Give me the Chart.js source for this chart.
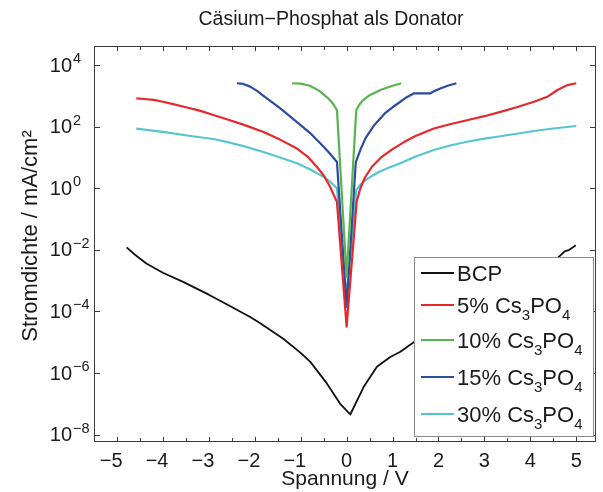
<!DOCTYPE html>
<html lang="de">
<head>
<meta charset="UTF-8">
<title>Cäsium-Phosphat als Donator</title>
<style>
  body { margin: 0; background: #fff; }
  #chart { display: block; }
</style>
</head>
<body>
<canvas id="chart" width="603" height="492"></canvas>
<script src="https://cdn.jsdelivr.net/npm/chart.js@4.4.1/dist/chart.umd.min.js"></script>
<script>
  // Spannung (V) und Stromdichte (mA/cm²)
  const V_BCP = [-4.79, -4.6, -4.36, -4.0, -3.56, -3.0, -2.5, -2.1, -1.88, -1.38, -1.0, -0.79, -0.43, -0.14, 0.08,
                 0.37, 0.66, 0.95, 1.17, 1.46, 2.0, 2.5, 3.0, 3.5, 4.0, 4.5, 4.62, 4.75, 4.85, 4.99];
  const J_BCP = [1.2e-2, 6.8e-3, 3.6e-3, 1.8e-3, 9.1e-4, 3.5e-4, 1.4e-4, 6.6e-5, 4.1e-5, 1.3e-5, 4.5e-6, 2.3e-6, 4.6e-7, 1.0e-7, 4.5e-8,
                 3.5e-7, 1.6e-6, 3.3e-6, 4.9e-6, 1.0e-5, 2.8e-5, 7.9e-5, 2.2e-4, 6.3e-4, 1.6e-3, 4.0e-3, 5.9e-3, 8.9e-3, 1.0e-2, 1.4e-2];

  const V_5 = [-4.58, -4.4, -4.2, -4.0, -3.8, -3.5, -3.2, -2.9, -2.54, -2.2, -1.81, -1.45, -1.08, -0.85, -0.65, -0.5, -0.36, -0.21, 0,
               0.22, 0.3, 0.4, 0.55, 0.75, 1.0, 1.25, 1.5, 1.9, 2.25, 2.62, 3.0, 3.35, 3.7, 4.08, 4.37, 4.59, 4.81, 5.0];
  const J_5 = [832, 794, 741, 646, 550, 427, 331, 240, 162, 110, 67.6, 38, 19.5, 10.7, 5.0, 2.63, 1.12, 0.355, 3.2e-5,
               0.38, 1.0, 2.24, 5.0, 10, 18.6, 31.6, 50.1, 87.1, 120, 162, 219, 302, 427, 646, 933, 1550, 2240, 2570];

  const V_10 = [-1.19, -1.0, -0.8, -0.6, -0.4, -0.3, -0.21, 0, 0.21, 0.28, 0.35, 0.5, 0.75, 1.0, 1.19];
  const J_10 = [2570, 2510, 2140, 1480, 832, 562, 347, 1.32e-3, 347, 525, 708, 1050, 1580, 2140, 2570];

  const V_15 = [-2.39, -2.25, -2.1, -1.95, -1.81, -1.45, -1.08, -0.8, -0.5, -0.36, -0.21, 0,
                0.2, 0.3, 0.41, 0.6, 0.83, 1.0, 1.17, 1.3, 1.46, 1.65, 1.82, 1.9, 2.04, 2.2, 2.39];
  const J_15 = [2570, 2450, 2000, 1450, 1000, 398, 141, 63.1, 22.4, 13.2, 7.1, 1.41e-4,
                7.1, 17.8, 41.7, 112, 269, 427, 646, 891, 1200, 1200, 1200, 1410, 1740, 2140, 2570];

  const V_30 = [-4.58, -4.0, -3.36, -2.9, -2.54, -2.2, -1.81, -1.45, -1.08, -0.8, -0.5, -0.35, -0.21, 0,
                0.21, 0.3, 0.4, 0.55, 0.7, 0.9, 1.17, 1.5, 1.9, 2.25, 2.62, 3.0, 3.35, 3.7, 4.08, 4.5, 5.0];
  const J_30 = [87, 67.6, 49, 39.8, 30.2, 22.4, 15.1, 10, 6.5, 4.17, 2.34, 1.58, 1.0, 2.95e-4,
                0.87, 1.32, 1.78, 2.51, 3.39, 4.57, 6.5, 10.7, 17.4, 24.5, 32.4, 40.7, 49, 58.9, 72.4, 87.1, 105];

  const X_TICKS = [-5, -4, -3, -2, -1, 0, 1, 2, 3, 4, 5];
  const Y_EXPONENTS = [4, 2, 0, -2, -4, -6, -8];

  const SERIES = [
    { label: 'BCP', sub: null, x: V_BCP, y: J_BCP, color: '#111111', width: 1.8 },
    { label: '5% Cs', sub: '3', after: 'PO', sub2: '4', x: V_5, y: J_5, color: '#e8272c', width: 2.2 },
    { label: '10% Cs', sub: '3', after: 'PO', sub2: '4', x: V_10, y: J_10, color: '#58b44e', width: 2.2 },
    { label: '15% Cs', sub: '3', after: 'PO', sub2: '4', x: V_15, y: J_15, color: '#2c4c9e', width: 2.2 },
    { label: '30% Cs', sub: '3', after: 'PO', sub2: '4', x: V_30, y: J_30, color: '#55c6cf', width: 2.2 },
  ];

  const TITLE = 'Cäsium\u2212Phosphat als Donator';
  const Y_TITLE = 'Stromdichte / mA/cm²';
  const FONT = '"Liberation Sans", Arial, Helvetica, sans-serif';

  const decoPlugin = {
    id: 'deco',
    afterDatasetsDraw(chart) {
      const { ctx, chartArea: a, scales: { x, y } } = chart;
      ctx.save();

      // Titel
      ctx.fillStyle = '#1a1a1a';
      ctx.font = '19.5px ' + FONT;
      ctx.textAlign = 'center';
      ctx.textBaseline = 'middle';
      ctx.fillText(TITLE, 331, 20);

      // y-Achsentitel
      ctx.save();
      ctx.translate(31, 236);
      ctx.rotate(-Math.PI / 2);
      ctx.font = '22px ' + FONT;
      ctx.fillText(Y_TITLE, 0, 0);
      ctx.restore();

      // Rahmen
      ctx.strokeStyle = '#3c3c3c';
      ctx.lineWidth = 1;
      ctx.strokeRect(Math.round(a.left) + 0.5, Math.round(a.top) + 0.5,
        Math.round(a.right - a.left) - 1, Math.round(a.bottom - a.top) - 1);

      // Ticks nach innen
      ctx.beginPath();
      for (const t of X_TICKS) {
        for (const v of [t, t + 0.5]) {
          if (v <= x.min || v >= x.max) continue;
          const px = Math.round(x.getPixelForValue(v)) + 0.5;
          const len = v === t ? 5 : 4;
          ctx.moveTo(px, a.bottom); ctx.lineTo(px, a.bottom - len);
          ctx.moveTo(px, a.top); ctx.lineTo(px, a.top + len);
        }
      }
      for (const e of Y_EXPONENTS) {
        const py = Math.round(y.getPixelForValue(Math.pow(10, e))) + 0.5;
        ctx.moveTo(a.left, py); ctx.lineTo(a.left + 6, py);
        ctx.moveTo(a.right, py); ctx.lineTo(a.right - 6, py);
      }
      ctx.stroke();

      // Beschriftung x
      ctx.fillStyle = '#1a1a1a';
      ctx.font = '20px ' + FONT;
      ctx.textBaseline = 'alphabetic';
      for (const t of X_TICKS) {
        const px = x.getPixelForValue(t);
        const digits = String(Math.abs(t));
        const w = ctx.measureText(digits).width;
        ctx.textAlign = 'center';
        ctx.fillText(digits, px, 467);
        if (t < 0) {
          ctx.textAlign = 'right';
          ctx.fillText('\u2212', px - w / 2, 467);
        }
      }

      // Beschriftung y (10 hoch n)
      for (const e of Y_EXPONENTS) {
        const py = y.getPixelForValue(Math.pow(10, e));
        ctx.font = '20px ' + FONT;
        ctx.textAlign = 'right';
        ctx.textBaseline = 'middle';
        ctx.fillText('10', 72, py + 1);
        ctx.font = '14.5px ' + FONT;
        ctx.textAlign = 'left';
        ctx.textBaseline = 'alphabetic';
        ctx.fillText(String(e).replace('-', '\u2212'), 73, py - 2);
      }

      // Legende
      const lx = 414, ly = 257, lw = 179, lh = 179;
      ctx.fillStyle = '#ffffff';
      ctx.fillRect(lx, ly, lw, lh);
      ctx.strokeStyle = '#8a8a8a';
      ctx.lineWidth = 1;
      ctx.strokeRect(lx + 0.5, ly + 0.5, lw, lh);
      const rows = [273, 305, 340, 377, 414];
      SERIES.forEach((s, i) => {
        const ry = rows[i];
        ctx.strokeStyle = s.color;
        ctx.lineWidth = s.width;
        ctx.beginPath();
        ctx.moveTo(421, ry); ctx.lineTo(454, ry);
        ctx.stroke();
        ctx.fillStyle = '#1a1a1a';
        ctx.textAlign = 'left';
        ctx.textBaseline = 'alphabetic';
        let tx = 457;
        const base = ry + 8;
        ctx.font = '22px ' + FONT;
        ctx.fillText(s.label, tx, base);
        tx += ctx.measureText(s.label).width;
        if (s.sub) {
          ctx.font = '15px ' + FONT;
          ctx.fillText(s.sub, tx, base + 7);
          tx += ctx.measureText(s.sub).width;
          ctx.font = '22px ' + FONT;
          ctx.fillText(s.after, tx, base);
          tx += ctx.measureText(s.after).width;
          ctx.font = '15px ' + FONT;
          ctx.fillText(s.sub2, tx, base + 7);
        }
      });

      ctx.restore();
    }
  };

  const datasets = SERIES.map(s => ({
    label: s.label,
    data: s.x.map((v, i) => ({ x: v, y: s.y[i] })),
    borderColor: s.color,
    backgroundColor: s.color,
    borderWidth: s.width,
    borderJoinStyle: 'round',
    pointRadius: 0,
    tension: 0,
    fill: false
  }));

  new Chart(document.getElementById('chart'), {
    type: 'line',
    data: { datasets },
    plugins: [decoPlugin],
    options: {
      responsive: false,
      animation: false,
      layout: { padding: { top: 46, right: 7, left: 0, bottom: 0 } },
      plugins: {
        legend: { display: false },
        tooltip: { enabled: false },
        title: { display: false }
      },
      scales: {
        x: {
          type: 'linear',
          min: -5.5,
          max: 5.43,
          ticks: { display: false },
          grid: { display: false },
          border: { display: false },
          title: {
            display: true,
            text: 'Spannung / V',
            color: '#1a1a1a',
            font: { family: FONT, size: 21 },
            padding: { top: -2, bottom: 0 }
          },
          afterFit(s) { s.height = 50; }
        },
        y: {
          type: 'logarithmic',
          min: 5.75e-9,
          max: 4.17e4,
          ticks: { display: false },
          grid: { display: false },
          border: { display: false },
          afterFit(s) { s.width = 94; }
        }
      }
    }
  });
</script>
</body>
</html>
